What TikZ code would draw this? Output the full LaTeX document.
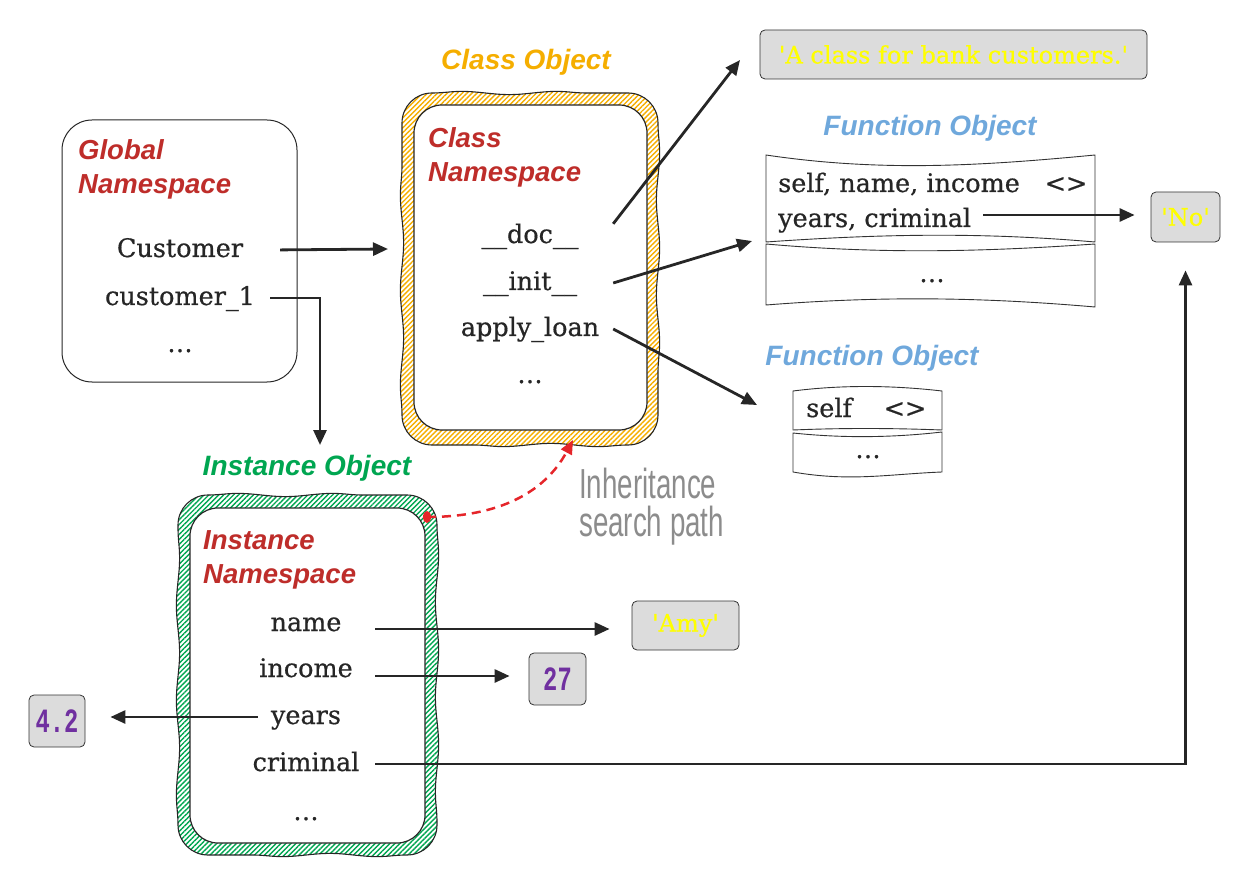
\documentclass[tikz,border=0pt]{standalone}
\usepackage{fontspec}
\setmainfont{DejaVu Serif}[FakeBold=0.6]
\newfontfamily\valfont{DejaVu Serif}[FakeBold=0.8]
\newfontfamily\titlefont{Liberation Sans}
\newfontfamily\numfont[FakeStretch=0.7]{Liberation Mono}
\newfontfamily\pathfont[FakeStretch=0.66]{Liberation Sans}
\usetikzlibrary{patterns, patterns.meta, positioning, arrows.meta, decorations.pathmorphing}

\definecolor{nsred}{HTML}{BE2D2A}
\definecolor{clsorange}{HTML}{F5AE00}
\definecolor{fnblue}{HTML}{6FA8DC}
\definecolor{instgreen}{HTML}{00A651}
\definecolor{valgray}{HTML}{DCDCDC}
\definecolor{valyellow}{HTML}{FFFF00}
\definecolor{numpurple}{HTML}{7030A0}
\definecolor{pathgray}{HTML}{8C8C8C}
\definecolor{linkred}{HTML}{E5252A}

\begin{document}
\begin{tikzpicture}[x=1pt, y=-1pt,
  objtitle/.style={font=\titlefont\bfseries\itshape\fontsize{28}{32}\selectfont, anchor=base, inner sep=0pt},
  nstitle/.style={font=\titlefont\bfseries\itshape\fontsize{27.5}{32}\selectfont, text=nsred, anchor=base west, inner sep=0pt},
  item/.style={font=\fontsize{25.5}{30}\selectfont, text=black!85, anchor=base, inner sep=0pt, text height=19pt, text depth=5pt},
  fntext/.style={item, anchor=base west},
  valbox/.style={draw=black!80, line width=0.8pt, fill=valgray, rounded corners=5pt, inner sep=0pt},
  strval/.style={valbox, font=\valfont\fontsize{24}{26}\selectfont, text=valyellow},
  numval/.style={valbox, font=\numfont\bfseries\fontsize{34}{36}\selectfont, text=numpurple},
  link/.style={-{Triangle[length=15pt, width=13pt]}, line width=2.8pt, draw=black!85},
  wavy/.style={decoration={snake, amplitude=1.6pt, segment length=95pt}, draw=black!85, line width=1.1pt},
  innerbox/.style={draw=black!85, line width=1.2pt, fill=white, rounded corners=28pt},
  fnbox/.style={draw=black!80, line width=0.9pt, fill=white},
  pathtext/.style={text=pathgray, font=\pathfont\fontsize{42}{40}\selectfont, anchor=base west, inner sep=0pt}
]
\useasboundingbox (0,0) rectangle (1237,877);

\draw[line width=1pt, draw=black!85, rounded corners=30pt] (62,120) rectangle (297,382);
\node[nstitle] (gTitleA) at (78,160) {Global};
\node[nstitle] (gTitleB) at (78,194) {Namespace};
\node[item, minimum width=180pt] (gCust) at (180,257) {Customer};
\node[item, minimum width=180pt] (gCust1) at (180,305) {customer\_1};
\node[item] (gDots) at (180,352) {\dots};

\node[objtitle, text=clsorange] (clsTitle) at (526,70) {Class Object};
\draw[wavy, pattern={Lines[angle=45, distance=3.5pt, line width=1.4pt]}, pattern color=clsorange] (432,93) decorate {-- (628,93)} .. controls (644.6,93) and (658,106.4) .. (658,123) decorate {-- (658,415)} .. controls (658,431.6) and (644.6,445) .. (628,445) decorate {-- (432,445)} .. controls (415.4,445) and (402,431.6) .. (402,415) decorate {-- (402,123)} .. controls (402,106.4) and (415.4,93) .. (432,93) -- cycle;
\draw[innerbox] (414,105) rectangle (647,430);
\node[nstitle] (cTitleA) at (428,148) {Class};
\node[nstitle] (cTitleB) at (428,182) {Namespace};
\node[item, minimum width=166pt] (cDoc) at (530,243) {\_\_doc\_\_};
\node[item, minimum width=166pt] (cInit) at (530,290) {\_\_init\_\_};
\node[item, minimum width=166pt] (cApply) at (530,336) {apply\_loan};
\node[item] (cDots) at (530,383) {\dots};

\node[strval, minimum width=387pt, minimum height=49pt] (docstr) at (953.5,54.5) {'A class for bank customers.'};

\node[objtitle, text=fnblue] (fnTitleA) at (930,136) {Function Object};
\draw[fnbox] (766,155) .. controls (880,172) and (980,166) .. (1095,155) -- (1095,242) .. controls (980,232) and (880,234) .. (766,242) -- cycle;
\draw[fnbox] (766,244) .. controls (880,254) and (980,252) .. (1095,244) -- (1095,307) .. controls (980,297) and (880,296) .. (766,305) -- cycle;
\node[fntext] (fSelf) at (778,192) {self, name, income};
\node[item] (fAngA) at (1066,192) {<>};
\node[fntext] (fYears) at (778,227) {years, criminal};
\node[item] (fDotsA) at (932,282) {\dots};
\node[strval, minimum width=69pt, minimum height=50pt] (noval) at (1185.5,217) {'No'};

\node[objtitle, text=fnblue] (fnTitleB) at (872,366) {Function Object};
\draw[fnbox] (793,391) .. controls (840,385) and (890,385) .. (942,391) -- (942,430) .. controls (890,428) and (840,428) .. (793,430) -- cycle;
\draw[fnbox] (793,433) .. controls (840,438) and (890,438) .. (942,432) -- (942,472) .. controls (890,474) and (850,482) .. (793,472) -- cycle;
\node[fntext] (fSelfB) at (806,417) {self};
\node[item] (fAngB) at (905,417) {<>};
\node[item] (fDotsB) at (868,458) {\dots};

\node[objtitle, text=instgreen] (instTitle) at (307,475) {Instance Object};
\draw[wavy, pattern={Lines[angle=45, distance=3.5pt, line width=1.4pt]}, pattern color=instgreen] (208,495) decorate {-- (407,495)} .. controls (423.6,495) and (437,508.4) .. (437,525) decorate {-- (437,825)} .. controls (437,841.6) and (423.6,855) .. (407,855) decorate {-- (208,855)} .. controls (191.4,855) and (178,841.6) .. (178,825) decorate {-- (178,525)} .. controls (178,508.4) and (191.4,495) .. (208,495) -- cycle;
\draw[innerbox] (190,508) rectangle (425,843);
\node[nstitle] (iTitleA) at (203,549) {Instance};
\node[nstitle] (iTitleB) at (203,583) {Namespace};
\node[item, minimum width=138pt] (iName) at (306,631) {name};
\node[item, minimum width=138pt] (iIncome) at (306,677) {income};
\node[item, minimum width=138pt] (iYears) at (306,724) {years};
\node[item, minimum width=138pt] (iCrim) at (306,771) {criminal};
\node[item] (iDots) at (306,820) {\dots};

\node[strval, minimum width=107pt, minimum height=49pt] (amy) at (685.5,625.5) {'Amy'};
\node[numval, minimum width=57pt, minimum height=52pt] (income27) at (557.5,679) {27};
\node[numval, minimum width=56pt, minimum height=52pt] (years42) at (57,721) {4.2};

\node[pathtext] (inhA) at (579,498) {Inheritance};
\node[pathtext] (inhB) at (579,536) {search path};

\coordinate (clsIn) at (388,249);
\coordinate (instIn) at (320,445);
\coordinate (docEnd) at (740,60);
\coordinate (fnAin) at (752,241);
\coordinate (fnBin) at (757,405);
\coordinate (instDot) at (427,517);
\coordinate (clsOut) at (573,440);

\draw[link, shorten <=10pt] (gCust.east) -- (clsIn);
\draw[link] (gCust1.east) -| (instIn);
\draw[link] (cDoc.north east) -- (docEnd);
\draw[link] (cInit.east) -- (fnAin);
\draw[link] (cApply.east) -- (fnBin);
\draw[link, shorten <=12pt, shorten >=16pt] ([yshift=5pt]fYears.east) -- ([yshift=5pt]fYears.east -| noval.west);
\draw[link, shorten >=22pt] ([yshift=-5pt]iName.east) -- ([yshift=-5pt]iName.east -| amy.west);
\draw[link, shorten >=19pt] ([yshift=-6pt]iIncome.east) -- ([yshift=-6pt]iIncome.east -| income27.west);
\draw[link, shorten >=25pt] ([xshift=21pt]iYears.west) -- (iYears.west -| years42.east);
\draw[link, shorten >=28pt] (iCrim.east) -| (noval.south);

\draw[linkred, line width=2.5pt, dash pattern=on 9pt off 6pt, -{Triangle[length=14pt, width=12pt]}] (instDot) .. controls (500,517) and (545,492) .. (clsOut);
\fill[linkred] (instDot) ellipse (4 and 6);

\end{tikzpicture}
\end{document}
